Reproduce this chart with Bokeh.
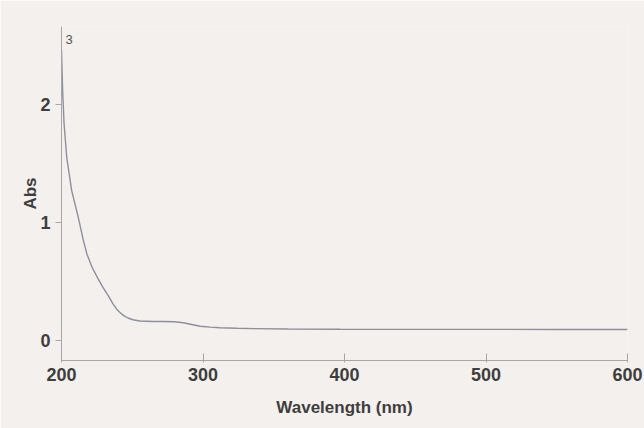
from bokeh.plotting import figure
from bokeh.models import FixedTicker, Range1d, Label
from bokeh.embed import file_html
from bokeh.resources import INLINE

# Data
wavelength = [200, 200.8, 201.8, 203.7, 207.2, 211.9, 215.4, 218.0, 221.6, 225.5, 229.3, 233.0,
              236.4, 239.0, 241.5, 244.0, 247.0, 250.5, 255.5, 265, 272, 280, 286, 292,
              298, 305, 312, 324, 336, 360, 397, 450, 500, 550, 600]
absorbance = [2.46, 2.12, 1.84, 1.55, 1.27, 1.04, 0.85, 0.73, 0.62, 0.53, 0.45, 0.38,
              0.31, 0.265, 0.235, 0.21, 0.19, 0.175, 0.165, 0.16, 0.16, 0.158, 0.15, 0.135,
              0.12, 0.113, 0.108, 0.103, 0.10, 0.097, 0.095, 0.094, 0.094, 0.093, 0.093]

x_ticks = [200, 300, 400, 500, 600]
y_ticks = [0, 1, 2]
corner_label = "3"
corner_pos = (200, 2.55)

bg = "#f4f0ed"
text_col = "#3e3e3e"
axis_col = "#a6a6a6"

p = figure(width=644, height=428, output_backend="svg", toolbar_location=None,
           x_range=Range1d(200, 600), y_range=Range1d(-0.17, 2.66),
           min_border_left=61, min_border_right=17, min_border_top=26, min_border_bottom=68,
           background_fill_color=bg, border_fill_color=bg)
p.outline_line_color = None
p.grid.visible = False

p.line(wavelength, absorbance, line_color="#8e8e9c", line_width=1.4)

xa = p.xaxis[0]
xa.ticker = FixedTicker(ticks=x_ticks)
xa.axis_label = "Wavelength (nm)"
xa.minor_tick_line_color = None
xa.major_tick_in = 7
xa.major_tick_out = 2
xa.major_label_standoff = 5
xa.axis_label_standoff = 14

ya = p.yaxis[0]
ya.ticker = FixedTicker(ticks=y_ticks)
ya.axis_label = "Abs"
ya.minor_tick_line_color = None
ya.major_tick_in = 0
ya.major_tick_out = 6
ya.major_label_standoff = 5
ya.axis_label_standoff = -3

for ax in (xa, ya):
    ax.axis_line_color = axis_col
    ax.major_tick_line_color = axis_col
    ax.major_label_text_font = "Liberation Sans"
    ax.major_label_text_font_style = "bold"
    ax.major_label_text_font_size = "18px"
    ax.major_label_text_color = text_col
    ax.axis_label_text_font = "Liberation Sans"
    ax.axis_label_text_font_style = "bold"
    ax.axis_label_text_font_size = "17px"
    ax.axis_label_text_color = text_col

p.add_layout(Label(x=corner_pos[0], y=corner_pos[1], text=corner_label, x_offset=4,
                   text_baseline="middle", text_font="Liberation Sans",
                   text_font_size="13px", text_color="#555555"))

open("out.html", "w").write(file_html(p, INLINE))
